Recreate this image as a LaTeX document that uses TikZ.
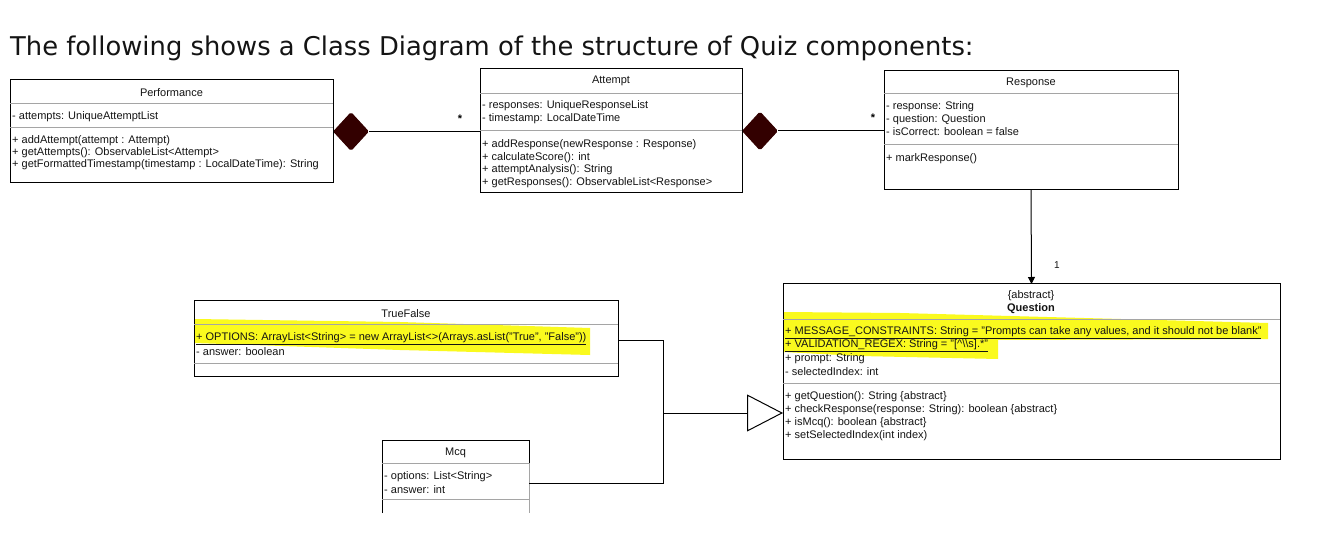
\documentclass[tikz,border=0pt]{standalone}
\usepackage{fontspec}
\setmainfont{Liberation Sans}
\newfontfamily\titlefont{DejaVu Sans}
\usetikzlibrary{shapes.geometric,arrows.meta,calc}
\definecolor{hl}{RGB}{250,250,30}
\definecolor{dia}{RGB}{51,0,0}
\definecolor{divc}{RGB}{165,165,165}
\definecolor{ink}{RGB}{20,20,20}
\begin{document}
\begin{tikzpicture}[x=1pt,y=-1pt,
  cls/.style={draw=black,line width=1pt,inner sep=0pt,outer sep=0pt,anchor=north west},
  txt/.style={font=\fontsize{11}{13}\selectfont,text=ink,anchor=west,inner sep=0pt,yshift=-1.2pt},
  hd/.style={font=\fontsize{11}{13}\selectfont,text=ink,inner sep=0pt,yshift=-1.2pt},
  dv/.style={draw=divc,line width=0.9pt},
  conn/.style={draw=black,line width=1pt},
  comp/.style={diamond,fill=dia,draw=dia,line width=1pt,rounded corners=1.5pt,inner sep=0pt,minimum width=35pt,minimum height=38pt},
  mult/.style={font=\fontsize{11}{13}\selectfont\bfseries,inner sep=0pt}
]
\useasboundingbox (0,0) rectangle (1325,537);
\fill[white] (0,0) rectangle (1325,537);

% title
\node[font=\titlefont\fontsize{25.8}{30}\selectfont,text=ink,anchor=west,inner sep=0pt] (title) at (10,48) {The following shows a Class Diagram of the structure of Quiz components:};

% highlights
\fill[hl] (783,312) -- (900,313) -- (1268,323) -- (1268,339) -- (998,340) -- (998,359) -- (860,356) -- (783,352) -- cycle;
\fill[hl] (194,319) -- (400,322) -- (590,328) -- (590,355) -- (400,350) -- (194,343) -- cycle;

% ---------- Performance
\node[cls,minimum width=323pt,minimum height=103pt] (perf) at (10,80) {};
\draw[dv] (perf.west |- 0,103) -- (perf.east |- 0,103);
\draw[dv] (perf.west |- 0,127) -- (perf.east |- 0,127);
\node[hd] (perfh) at (171.5,91) {Performance};
\node[txt] (perfa1) at (12,115) {- attempts: UniqueAttemptList};
\node[txt] (perfm1) at (12,139.5) {+ addAttempt(attempt : Attempt)};
\node[txt] (perfm2) at (12,151.5) {+ getAttempts(): ObservableList<Attempt>};
\node[txt] (perfm3) at (12,163.5) {+ getFormattedTimestamp(timestamp : LocalDateTime): String};

% ---------- Attempt
\node[cls,minimum width=262pt,minimum height=124pt] (att) at (480,69) {};
\draw[dv] (att.west |- 0,93) -- (att.east |- 0,93);
\draw[dv] (att.west |- 0,130) -- (att.east |- 0,130);
\node[hd] (atth) at (611,79.5) {Attempt};
\node[txt] (atta1) at (482,104.5) {- responses: UniqueResponseList};
\node[txt] (atta2) at (482,117) {- timestamp: LocalDateTime};
\node[txt] (attm1) at (482,143.5) {+ addResponse(newResponse : Response)};
\node[txt] (attm2) at (482,156) {+ calculateScore(): int};
\node[txt] (attm3) at (482,168.5) {+ attemptAnalysis(): String};
\node[txt] (attm4) at (482,181) {+ getResponses(): ObservableList<Response>};

% ---------- Response
\node[cls,minimum width=294pt,minimum height=119pt] (resp) at (884,71) {};
\draw[dv] (resp.west |- 0,93) -- (resp.east |- 0,93);
\draw[dv] (resp.west |- 0,144) -- (resp.east |- 0,144);
\node[hd] (resph) at (1031,81.5) {Response};
\node[txt] (respa1) at (886,105.5) {- response: String};
\node[txt] (respa2) at (886,118) {- question: Question};
\node[txt] (respa3) at (886,130.5) {- isCorrect: boolean = false};
\node[txt] (respm1) at (886,157) {+ markResponse()};

% ---------- Question
\node[cls,minimum width=497pt,minimum height=175pt] (ques) at (783,284) {};
\draw[dv] (ques.west |- 0,319) -- (ques.east |- 0,319);
\draw[dv] (ques.west |- 0,383) -- (ques.east |- 0,383);
\node[hd] (quesab) at (1031,294.5) {\{abstract\}};
\node[hd,font=\fontsize{11}{13}\selectfont\bfseries] (quesh) at (1031,307) {Question};
\node[txt] (quesa1) at (785,331) {\underline{+ MESSAGE\_CONSTRAINTS: String = "Prompts can take any values, and it should not be blank"}};
\node[txt] (quesa2) at (785,344) {\underline{+ VALIDATION\_REGEX: String = "[\textasciicircum\textbackslash\textbackslash s].*"}};
\node[txt] (quesa3) at (785,357) {+ prompt: String};
\node[txt] (quesa4) at (785,370) {- selectedIndex: int};
\node[txt] (quesm1) at (785,395.5) {+ getQuestion(): String \{abstract\}};
\node[txt] (quesm2) at (785,408) {+ checkResponse(response: String): boolean \{abstract\}};
\node[txt] (quesm3) at (785,421) {+ isMcq(): boolean \{abstract\}};
\node[txt] (quesm4) at (785,434) {+ setSelectedIndex(int index)};

% ---------- TrueFalse
\node[cls,minimum width=424pt,minimum height=75pt] (tf) at (194,301) {};
\draw[dv] (tf.west |- 0,324) -- (tf.east |- 0,324);
\draw[dv] (tf.west |- 0,363) -- (tf.east |- 0,363);
\node[hd] (tfh) at (406,312.5) {TrueFalse};
\node[txt] (tfa1) at (196,337) {\underline{+ OPTIONS: ArrayList<String> = new ArrayList<>(Arrays.asList("True", "False"))}};
\node[txt] (tfa2) at (196,350) {- answer: boolean};

% ---------- Mcq (open at the bottom)
\node[inner sep=0pt,outer sep=0pt,anchor=north west,minimum width=147pt,minimum height=73pt] (mcq) at (382,440) {};
\draw[line width=1pt] (mcq.south west) -- (mcq.north west) -- (mcq.north east);
\draw[dv] (mcq.north east) -- (mcq.south east);
\draw[line width=1pt] (mcq.north east) -- (mcq.east |- 0,463);
\draw[dv] (mcq.west |- 0,463) -- (mcq.east |- 0,463);
\draw[dv] (mcq.west |- 0,499) -- (mcq.east |- 0,499);
\node[hd] (mcqh) at (455.5,452) {Mcq};
\node[txt] (mcqa1) at (384,475) {- options: List<String>};
\node[txt] (mcqa2) at (384,488) {- answer: int};

% ---------- compositions
\node[comp,anchor=west] (d1) at (perf.east) {};
\draw[conn] (d1.east) -- (d1.east -| att.west);
\node[mult] (m1) at (460,119) {*};
\node[comp,anchor=west] (d2) at (att.east) {};
\draw[conn] (d2.east) -- (d2.east -| resp.west);
\node[mult] (m2) at (873,118) {*};

% ---------- association Response -> Question
\draw[conn,-{Triangle[length=7pt,width=7pt]}] (resp.south) -- (ques.north);
\node[font=\fontsize{10}{12}\selectfont,text=ink,inner sep=0pt] (m3) at (1057,265) {1};

% ---------- generalisation
\coordinate (jn) at (663,413);
\draw[conn] (tf.east |- 0,340) -| (jn);
\draw[conn] ([yshift=-7pt]mcq.east) -| (jn);
\draw[conn,-{Triangle[open,length=36pt,width=37pt,line width=1pt]}] (jn) -- (jn -| ques.west);
\end{tikzpicture}
\end{document}
